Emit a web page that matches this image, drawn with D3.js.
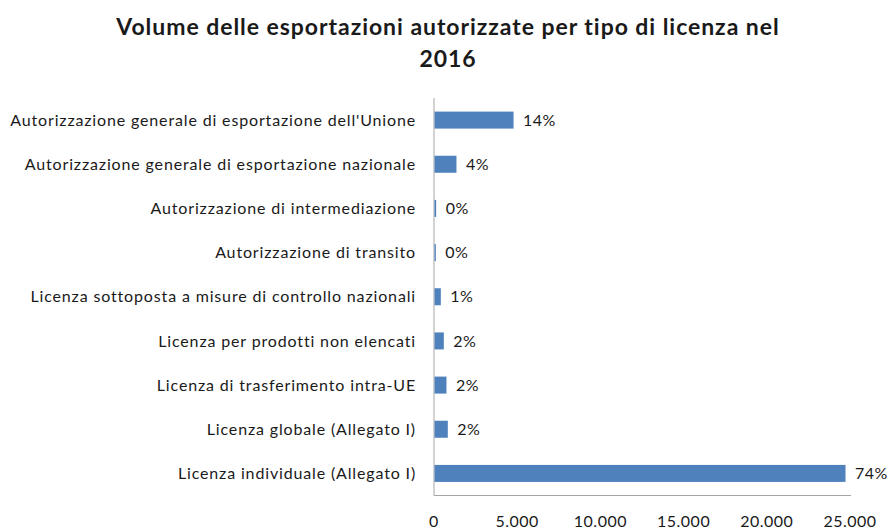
<!DOCTYPE html>
<html>
<head>
<meta charset="utf-8">
<script src="https://cdn.jsdelivr.net/npm/d3@7"></script>
<style>
  body { margin: 0; background: #fff; }
  text { font-family: Lato, "Open Sans", sans-serif; fill: #1a1a1a; }
</style>
</head>
<body>
<script>
var categories = [
  "Autorizzazione generale di esportazione dell'Unione",
  "Autorizzazione generale di esportazione nazionale",
  "Autorizzazione di intermediazione",
  "Autorizzazione di transito",
  "Licenza sottoposta a misure di controllo nazionali",
  "Licenza per prodotti non elencati",
  "Licenza di trasferimento intra-UE",
  "Licenza globale (Allegato I)",
  "Licenza individuale (Allegato I)"
];
var values = [4750, 1320, 100, 80, 380, 560, 720, 800, 24700];
var shareLabels = ["14%", "4%", "0%", "0%", "1%", "2%", "2%", "2%", "74%"];
var xTicks = [0, 5000, 10000, 15000, 20000, 25000];
var tickLabels = ["0", "5.000", "10.000", "15.000", "20.000", "25.000"];

var width = 892, height = 529;
var svg = d3.select(document.body).append("svg")
  .attr("width", width)
  .attr("height", height);

// title
var title = svg.append("text")
  .attr("text-anchor", "middle")
  .style("font-size", "23px")
  .style("font-weight", "bold")
  .style("letter-spacing", "0.95px");
title.append("tspan").attr("x", 448).attr("y", 35)
  .text("Volume delle esportazioni autorizzate per tipo di licenza nel");
title.append("tspan").attr("x", 448).attr("y", 67).text("2016");

var x = d3.scaleLinear().domain([0, 25000]).range([434, 850]);
var y = d3.scaleBand().domain(categories).range([98, 495.5])
  .paddingInner(0.615).paddingOuter(0.3075);

// axes lines
svg.append("line")
  .attr("x1", x(0)).attr("x2", x(0))
  .attr("y1", 98).attr("y2", 495.5)
  .attr("stroke", "#a6a6a6").attr("stroke-width", 1);
svg.append("line")
  .attr("x1", x(0)).attr("x2", 851)
  .attr("y1", 495.5).attr("y2", 495.5)
  .attr("stroke", "#a6a6a6").attr("stroke-width", 1);

// bars
svg.selectAll("rect.bar")
  .data(values)
  .enter().append("rect")
  .attr("class", "bar")
  .attr("x", x(0) + 0.5)
  .attr("y", function(d, i) { return y(categories[i]); })
  .attr("width", function(d) { return Math.max(1, x(d) - x(0)); })
  .attr("height", y.bandwidth())
  .attr("fill", "#4f81bd");

// value labels
svg.selectAll("text.val")
  .data(values)
  .enter().append("text")
  .attr("class", "val")
  .attr("x", function(d) { return x(d) + 10; })
  .attr("y", function(d, i) { return y(categories[i]) + y.bandwidth() / 2; })
  .attr("dy", "0.35em")
  .style("font-size", "16px")
  .style("letter-spacing", "0.5px")
  .text(function(d, i) { return shareLabels[i]; });

// category labels
svg.selectAll("text.cat")
  .data(categories)
  .enter().append("text")
  .attr("class", "cat")
  .attr("x", 416)
  .attr("y", function(d) { return y(d) + y.bandwidth() / 2; })
  .attr("dy", "0.35em")
  .attr("text-anchor", "end")
  .style("font-size", "16px")
  .style("letter-spacing", "0.85px")
  .text(function(d) { return d; });

// tick labels
svg.selectAll("text.tick")
  .data(xTicks)
  .enter().append("text")
  .attr("class", "tick")
  .attr("x", function(d) { return x(d); })
  .attr("y", 521)
  .attr("dy", "0.35em")
  .attr("text-anchor", "middle")
  .style("font-size", "16px")
  .style("letter-spacing", "0.5px")
  .text(function(d, i) { return tickLabels[i]; });
</script>
</body>
</html>
